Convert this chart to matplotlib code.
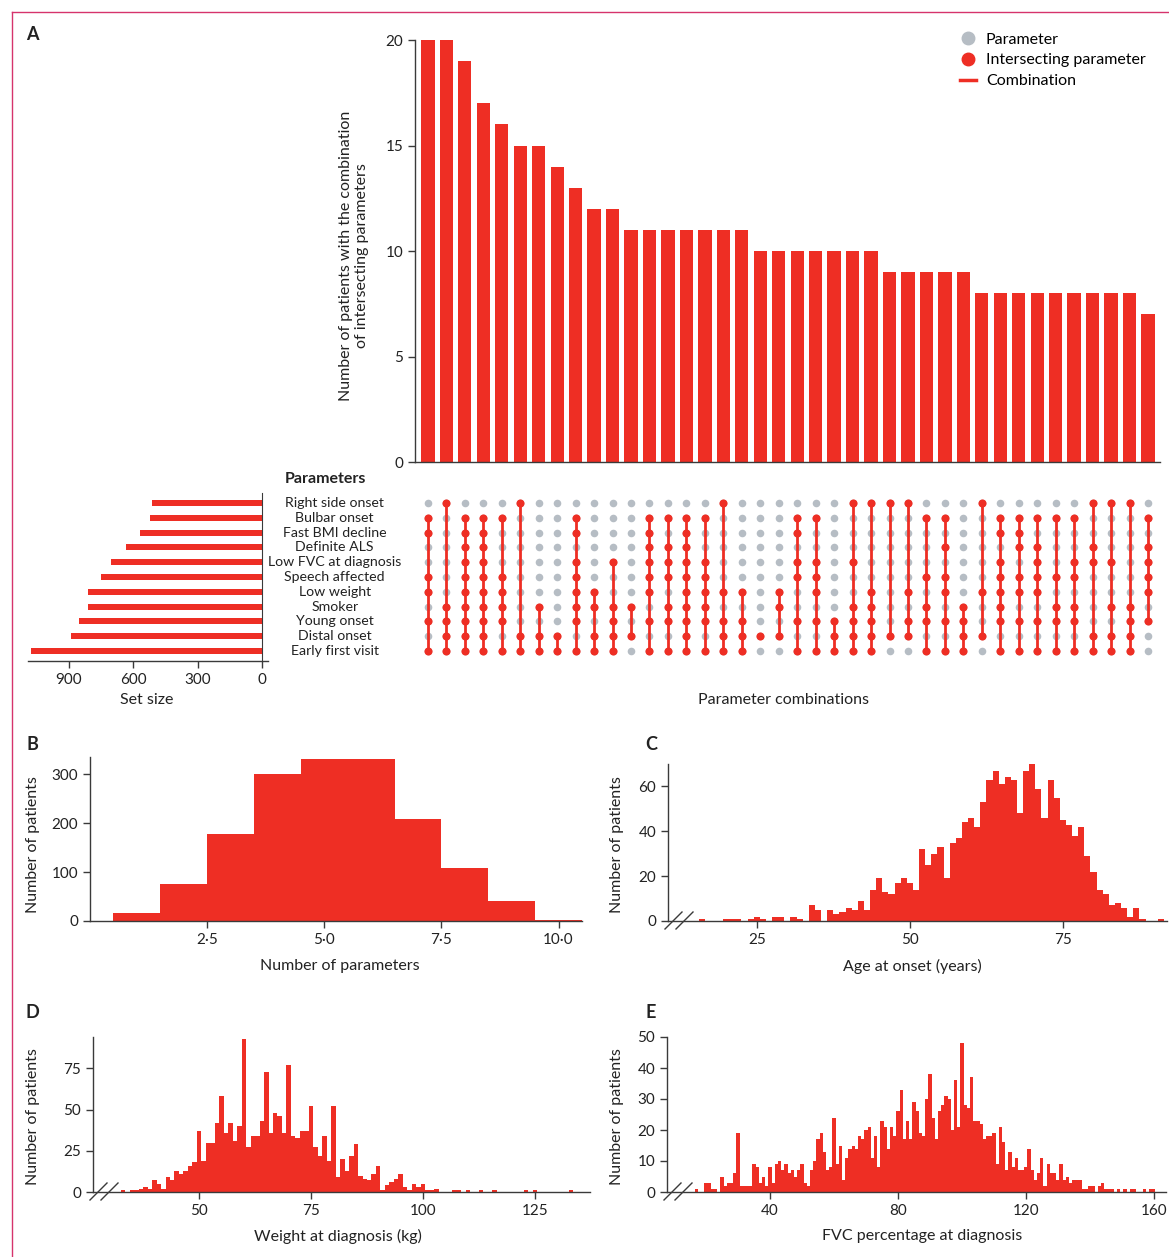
"""Upset-style overview of ALS parameter combinations plus four patient histograms."""
import numpy as np
import matplotlib; matplotlib.use("Agg")
import matplotlib.pyplot as plt
from matplotlib.lines import Line2D

plt.rcParams['font.family'] = ['Lato', 'DejaVu Sans']
plt.rcParams['font.size'] = 11

RED = "#ee2e24"
GREY = "#b6bdc4"
INK = "#3a3a3a"

# ---- panel A data
params = ["Right side onset", "Bulbar onset", "Fast BMI decline", "Definite ALS",
          "Low FVC at diagnosis", "Speech affected", "Low weight", "Smoker",
          "Young onset", "Distal onset", "Early first visit"]
set_size = [512, 522, 568, 632, 702, 748, 812, 812, 854, 891, 1075]
combo_counts = [20, 20, 19, 17, 16, 15, 15, 14, 13, 12, 12,
                11, 11, 11, 11, 11, 11, 11,
                10, 10, 10, 10, 10, 10, 10,
                9, 9, 9, 9, 9,
                8, 8, 8, 8, 8, 8, 8, 8, 8,
                7]
# row indices (0 = Right side onset ... 10 = Early first visit)
combo_members = [
    [1, 2, 5, 6, 8, 10], [0, 7, 8, 9, 10], [1, 2, 3, 4, 5, 6, 7, 8, 9, 10],
    [1, 2, 3, 4, 5, 6, 7, 8, 9, 10], [1, 5, 6, 7, 8, 10], [0, 9, 10],
    [7, 9, 10], [9, 10], [1, 2, 4, 5, 6, 7, 8, 10], [6, 7, 9, 10],
    [4, 7, 8, 9, 10], [7, 9], [1, 2, 3, 4, 5, 6, 8, 10],
    [1, 3, 4, 5, 7, 8, 10], [1, 2, 3, 4, 5, 6, 7, 8, 9, 10], [1, 4, 5, 6, 7, 8, 10],
    [0, 6, 8, 9, 10], [6, 8, 9, 10], [9], [6, 7, 9],
    [1, 2, 4, 5, 8, 10], [1, 4, 5, 6, 8, 10], [8, 9, 10],
    [0, 4, 7, 8, 9, 10], [0, 6, 7, 8, 9, 10], [0, 9], [0, 6, 8, 9],
    [1, 5, 7, 8, 10], [1, 3, 5, 6, 8, 10], [7, 8, 9, 10], [0, 6, 9],
    [1, 2, 4, 5, 6, 7, 8, 10], [1, 2, 3, 5, 6, 8, 10], [1, 3, 4, 5, 6, 8, 10],
    [1, 5, 7, 8, 10], [1, 4, 5, 7, 8, 10], [0, 3, 4, 9, 10], [0, 4, 7, 9, 10],
    [0, 7, 8, 9, 10], [1, 3, 4, 5, 6, 8],
]

# ---- panel B: number of parameters
n_params = [1, 2, 3, 4, 5, 6, 7, 8, 9, 10]
n_params_count = [17, 76, 178, 301, 331, 331, 209, 109, 41, 3]

# ---- panel C: age at onset (1-year bins)
age_years = list(range(16, 92))
age_count = [1, 0, 0, 0, 1, 1, 1, 0, 1, 2, 1, 0, 2, 2, 0, 2, 1, 0, 7, 5,
             0, 5, 3, 4, 6, 5, 9, 5, 14, 19, 13, 12, 17, 19, 17, 14, 32, 25, 30, 33,
             19, 35, 37, 44, 46, 42, 53, 63, 67, 61, 64, 63, 48, 67, 70, 59, 46, 63, 55, 45,
             43, 38, 42, 29, 22, 14, 12, 7, 8, 6, 2, 6, 1, 0, 0, 1]

# ---- panel D: weight at diagnosis (1-kg bins)
weight_kg = list(range(33, 134))
weight_count = [1, 0, 1, 1, 2, 3, 2, 7, 5, 2, 9, 7, 13, 11, 13, 16, 18, 37, 19, 30,
                30, 42, 58, 36, 42, 31, 40, 93, 27, 34, 34, 43, 73, 36, 48, 46, 36, 77, 34, 33,
                37, 37, 52, 27, 22, 34, 19, 52, 9, 20, 13, 22, 29, 10, 8, 7, 11, 16, 1, 4,
                6, 8, 11, 3, 1, 5, 3, 5, 1, 1, 2, 0, 0, 0, 1, 1, 0, 1, 0, 0,
                1, 0, 0, 1, 0, 0, 0, 0, 0, 0, 1, 0, 1, 0, 0, 0, 0, 0, 0, 0, 1]

# ---- panel E: FVC % at diagnosis (1-point bins)
fvc_pct = list(range(17, 161))
fvc_count = [1, 0, 0, 3, 3, 1, 1, 0, 5, 2, 3, 3, 6, 19, 2, 2, 2, 2, 9, 8,
             3, 5, 2, 8, 3, 9, 10, 7, 9, 6, 7, 5, 7, 9, 3, 2, 7, 10, 17, 19,
             13, 7, 8, 24, 9, 15, 4, 11, 14, 15, 14, 18, 17, 20, 21, 11, 18, 8, 23, 21,
             14, 21, 18, 26, 33, 17, 23, 17, 29, 26, 19, 18, 30, 38, 24, 17, 26, 28, 31, 30,
             20, 36, 21, 48, 28, 27, 37, 23, 23, 22, 17, 18, 18, 19, 9, 21, 16, 7, 13, 8,
             11, 7, 7, 8, 14, 7, 4, 6, 11, 2, 9, 6, 6, 4, 9, 4, 5, 3, 4, 4,
             4, 1, 1, 2, 2, 0, 2, 3, 1, 1, 1, 0, 1, 0, 1, 0, 1, 1, 0, 0,
             1, 0, 1, 1]

W, H = 1169, 1257
fig = plt.figure(figsize=(W / 100, H / 100), dpi=100)


def box(l, t, r, b):
    return [l / W, 1 - b / H, (r - l) / W, (b - t) / H]


def px(x, y):
    return x / W, 1 - y / H


def style(ax):
    for s in ["top", "right"]:
        ax.spines[s].set_visible(False)
    for s in ["left", "bottom"]:
        ax.spines[s].set_color(INK)
        ax.spines[s].set_linewidth(1.0)
    ax.tick_params(colors=INK, labelcolor="#222222", length=5, width=1.0, labelsize=11)


def axis_break(x0, y0):
    for dx in (0, 11):
        fig.add_artist(Line2D([(x0 + dx) / W, (x0 + dx + 17) / W],
                              [1 - (y0 + 8) / H, 1 - (y0 - 9) / H], color=INK, lw=1.0))


# set size (drawn first, transparent so row labels sit on top)
nrow = len(params)
axs = fig.add_axes(box(28, 492.6, 268, 661.3))
axs.patch.set_alpha(0)
axs.barh(range(nrow), set_size, height=0.4, color=RED, linewidth=0)
axs.set_xlim(1090, -28)
axs.set_ylim(10.7, -0.7)
style(axs)
axs.spines["left"].set_visible(False)
axs.spines["right"].set_visible(True)
axs.spines["right"].set_position(("data", 0))
axs.spines["right"].set_color(INK)
axs.set_yticks([])
axs.set_xticks([900, 600, 300, 0])

# top bar chart
ax = fig.add_axes(box(415, 40, 1160, 462))
ax.bar(range(len(combo_counts)), combo_counts, width=0.72, color=RED, linewidth=0)
ax.set_xlim(-0.7, 39.65)
ax.set_ylim(0, 20)
ax.set_xticks([])
ax.set_yticks([0, 5, 10, 15, 20])
style(ax)

# matrix
axm = fig.add_axes(box(415, 492.6, 1160, 661.3))
axm.set_xlim(-0.7, 39.65)
axm.set_ylim(10.7, -0.7)
axm.axis("off")
for j, mem in enumerate(combo_members):
    axm.scatter([j] * nrow, range(nrow), s=30, color=GREY, linewidths=0, zorder=1)
    if len(mem) > 1:
        axm.plot([j, j], [min(mem), max(mem)], color=RED, lw=2.0, zorder=2)
    axm.scatter([j] * len(mem), mem, s=34, color=RED, linewidths=0, zorder=3)
for i, p in enumerate(params):
    axm.text(-5.05, i, p, ha="center", va="center", fontsize=10.2, color="#222222",
             clip_on=False)

# histograms
def dot(v, pos):
    return f"{v:.1f}".replace(".", "·")

axb = fig.add_axes(box(90, 757, 582, 921))
axb.bar(n_params, n_params_count, width=1.0, color=RED, linewidth=0)
axb.set_xlim(0, 10.5)
axb.set_ylim(0, 335)
axb.set_xticks([2.5, 5.0, 7.5, 10.0])
axb.xaxis.set_major_formatter(dot)
axb.set_yticks([0, 100, 200, 300])
style(axb)

axc = fig.add_axes(box(668, 764, 1167, 921))
axc.bar(age_years, age_count, width=1.0, color=RED, linewidth=0)
axc.set_xlim(10.5, 92)
axc.set_ylim(0, 70)
axc.set_xticks([25, 50, 75])
axc.set_yticks([0, 20, 40, 60])
style(axc)

axd = fig.add_axes(box(93, 1037, 590, 1192))
axd.bar(weight_kg, weight_count, width=1.0, color=RED, linewidth=0)
axd.set_xlim(26.3, 137.3)
axd.set_ylim(0, 94)
axd.set_xticks([50, 75, 100, 125])
axd.set_yticks([0, 25, 50, 75])
style(axd)

axe = fig.add_axes(box(667, 1037, 1166, 1192))
axe.bar(fvc_pct, fvc_count, width=1.0, color=RED, linewidth=0)
axe.set_xlim(7.8, 163.8)
axe.set_ylim(0, 50)
axe.set_xticks([40, 80, 120, 160])
axe.set_yticks([0, 10, 20, 30, 40, 50])
style(axe)

axis_break(665, 921)
axis_break(90, 1192)
axis_break(664, 1192)

# texts
T = dict(color="#222222", fontsize=11.5, ha="center", va="center")
fig.text(*px(354, 256), "Number of patients with the combination\nof intersecting parameters",
         rotation=90, linespacing=1.2, **T)
fig.text(*px(325, 479), "Parameters", fontweight="bold", **T)
fig.text(*px(147, 700), "Set size", **T)
fig.text(*px(784, 700), "Parameter combinations", **T)
fig.text(*px(340, 966), "Number of parameters", **T)
fig.text(*px(912, 966), "Age at onset (years)", **T)
fig.text(*px(338, 1236), "Weight at diagnosis (kg)", **T)
fig.text(*px(922, 1236), "FVC percentage at diagnosis", **T)
for x, y in [(33, 845), (617, 845), (33, 1117), (617, 1117)]:
    fig.text(*px(x, y), "Number of patients", rotation=90, **T)
for lab, x, y in [("A", 32, 35), ("B", 32, 744), ("C", 651, 744), ("D", 32, 1013), ("E", 651, 1013)]:
    fig.text(*px(x, y), lab, fontweight="bold", fontsize=13, ha="center", va="center", color="#222222")

handles = [Line2D([], [], marker="o", ls="none", color=GREY, markersize=9),
           Line2D([], [], marker="o", ls="none", color=RED, markersize=9),
           Line2D([], [], color=RED, lw=2.5)]
fig.legend(handles, ["Parameter", "Intersecting parameter", "Combination"],
           loc="upper left", bbox_to_anchor=px(946, 18), frameon=False,
           handlelength=1.0, handletextpad=0.6, labelspacing=0.42, fontsize=11.5)

# journal frame
fig.add_artist(Line2D([12 / W, 1], [1 - 12 / H, 1 - 12 / H], color="#d6336c", lw=1.0))
fig.add_artist(Line2D([12 / W, 12 / W], [0, 1 - 12 / H], color="#d6336c", lw=1.0))

fig.savefig("out.png", dpi=100)
